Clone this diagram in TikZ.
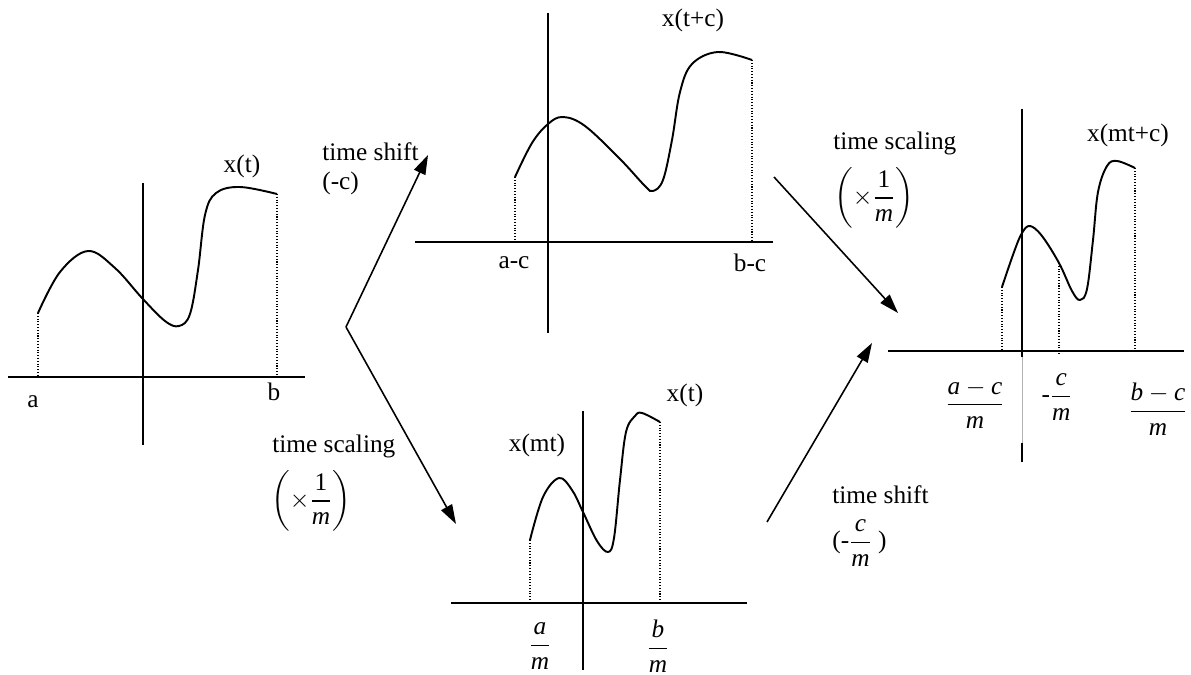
\documentclass[tikz,border=0pt]{standalone}
\usepackage{amsmath}
\usepackage{fontspec}
\setmainfont{Liberation Serif}
\usetikzlibrary{arrows.meta, positioning}
\newcommand{\mi}[1]{\textit{#1}}
\tikzset{
  axisline/.style={line width=1.1pt},
  signal/.style={line width=1.1pt, smooth, tension=0.6},
  guide/.style={densely dotted, line width=0.6pt},
  flow/.style={line width=0.9pt, -{Triangle[length=11pt,width=7pt]}},
  lbl/.style={font=\fontsize{14.4}{17.3}\selectfont, inner sep=0pt},
}

\begin{document}
\begin{tikzpicture}[x=0.02cm, y=-0.02cm]
  \useasboundingbox (0,0) rectangle (1191,675);

  % original signal x(t)
  \draw[axisline] (8,377) -- (305,377);
  \draw[axisline] (143,183) -- (143,445);
  \draw[signal] plot coordinates {(38,313) (60,272) (88,251) (115,268) (142,298) (165,321) (179,326) (190,314) (198,270) (205,215) (216,193) (240,187) (277,194)};
  \draw[guide] (38,313) -- (38,377);
  \draw[guide] (277,194) -- (277,377);
  \node[lbl] (ptA) at (33,402) {a};
  \node[lbl] (ptB) at (274,392) {b};
  \node[lbl] (sigX) at (242,166) {x(t)};

  % shifted signal x(t+c)
  \draw[axisline] (415,242) -- (773,242);
  \draw[axisline] (548,13) -- (548,333);
  \draw[signal] plot coordinates {(515,177) (532,143) (548,124) (563,117) (585,126) (620,159) (645,186) (653,191) (663,180) (672,140) (680,92) (692,64) (718,52) (752,60)};
  \draw[guide] (515,177) -- (515,242);
  \draw[guide] (752,60) -- (752,242);
  \node[lbl] (ptAC) at (514,263) {a-c};
  \node[lbl] (ptBC) at (750,263) {b-c};
  \node[lbl] (sigXC) at (693,20) {x(t+c)};

  % scaled signal x(mt)
  \draw[axisline] (451,603) -- (747,603);
  \draw[axisline] (583,411) -- (583,670);
  \draw[signal] plot coordinates {(530,540) (543,497) (559,478) (572,490) (583,512) (597,541) (608,552) (614,538) (620,480) (626,432) (635,416) (642,413) (660,422)};
  \draw[guide] (530,540) -- (530,603);
  \draw[guide] (660,422) -- (660,603);
  \node[lbl] (ptAM) at (540,646) {$\dfrac{\mi{a}}{\mi{m}}$};
  \node[lbl] (ptBM) at (658,646) {$\dfrac{\mi{b}}{\mi{m}}$};
  \node[lbl] (sigXM) at (537,445) {x(mt)};
  \node[lbl] (sigXT) at (685,395) {x(t)};

  % result x(mt+c)
  \draw[axisline] (888,351) -- (1184,351);
  \draw[axisline] (1022,109) -- (1022,357);
  \draw[gray!60, line width=0.4pt] (1022,357) -- (1022,443);
  \draw[axisline] (1022,443) -- (1022,462);
  \draw[signal] plot coordinates {(1002,287) (1014,252) (1022,233) (1030,226) (1042,236) (1059,263) (1072,291) (1080,300) (1087,289) (1093,240) (1098,192) (1107,166) (1117,161) (1135,168)};
  \draw[guide] (1002,287) -- (1002,351);
  \draw[guide] (1059,263) -- (1059,355);
  \draw[guide] (1135,168) -- (1135,351);
  \node[lbl] (ptACM) at (975,404) {$\dfrac{\mi{a}-\mi{c}}{\mi{m}}$};
  \node[lbl] (ptCM) at (1057,397) {-$\dfrac{\mi{c}}{\mi{m}}$};
  \node[lbl] (ptBCM) at (1158,409) {$\dfrac{\mi{b}-\mi{c}}{\mi{m}}$};
  \node[lbl] (sigXMC) at (1128,135) {x(mt+c)};

  % operations
  \coordinate (split) at (346,327);
  \coordinate (shiftTip) at (428,155);
  \coordinate (scaleTip) at (456,524);
  \coordinate (scaleFrom) at (774,177);
  \coordinate (joinA) at (898,313);
  \coordinate (shiftFrom) at (767,522);
  \coordinate (joinB) at (872,343);
  \draw[flow] (split) -- (shiftTip);
  \draw[flow] (split) -- (scaleTip);
  \draw[flow] (scaleFrom) -- (joinA);
  \draw[flow] (shiftFrom) -- (joinB);

  \node[lbl, anchor=west] (opShift) at (322,152) {time shift};
  \node[lbl, anchor=west] (opShiftV) at (322,183) {(-c)};
  \node[lbl, anchor=west] (opScale) at (272,446) {time scaling};
  \node[lbl, anchor=west] (opScaleV) at (271,501) {$\left(\times\dfrac{\textrm{1}}{\mi{m}}\right)$};
  \node[lbl, anchor=west] (opScale2) at (833,143) {time scaling};
  \node[lbl, anchor=west] (opScale2V) at (834,198) {$\left(\times\dfrac{\textrm{1}}{\mi{m}}\right)$};
  \node[lbl, anchor=west] (opShift2) at (832,495) {time shift};
  \node[lbl, anchor=west] (opShift2V) at (832,543) {(-$\dfrac{\mi{c}}{\mi{m}}$ )};
\end{tikzpicture}
\end{document}
